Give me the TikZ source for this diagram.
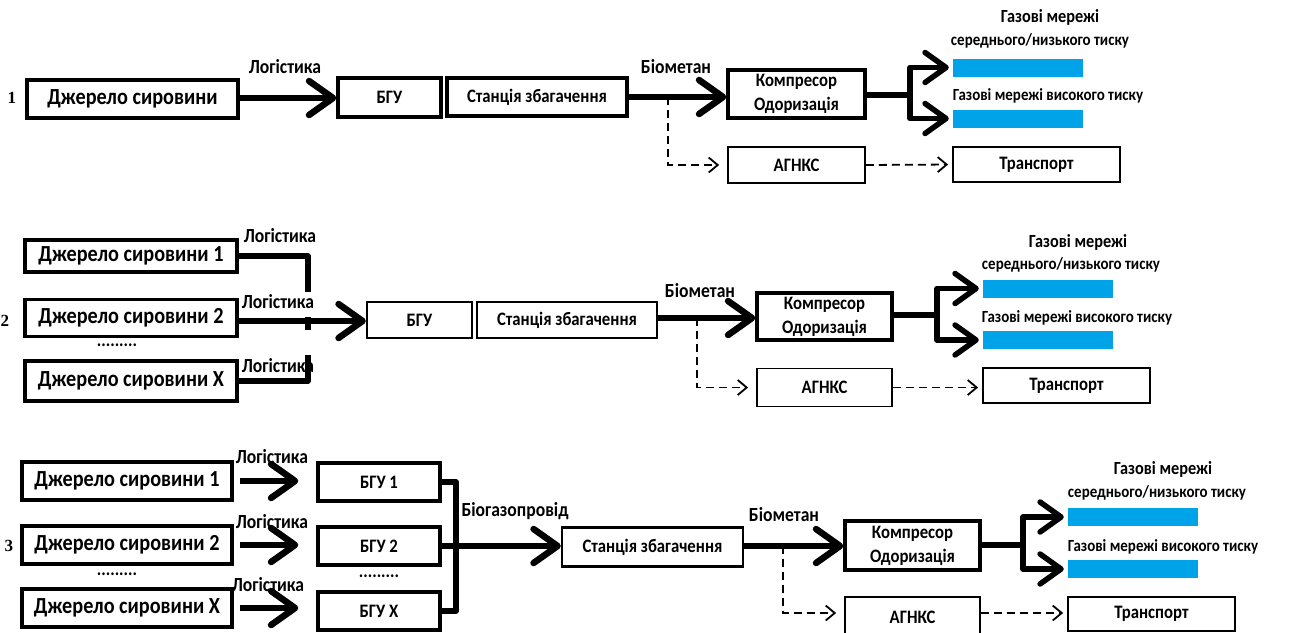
\documentclass[tikz,border=0pt]{standalone}
\usepackage{fontspec}
\setmainfont{Carlito}[FakeStretch=0.88]
\newfontfamily\numfont{Liberation Serif}
\usetikzlibrary{arrows.meta,calc}
\definecolor{barblue}{RGB}{0,162,232}
\begin{document}
\begin{tikzpicture}[x=1pt,y=-1pt,
  bx/.style={draw, line width=3.4, inner sep=0, align=center},
  bxm/.style={draw, line width=2.4, inner sep=0, align=center},
  bxt/.style={draw, line width=1.8, inner sep=0, align=center},
  bar/.style={fill=barblue, inner sep=0, minimum width=130, minimum height=18},
  big/.style={font=\bfseries\fontsize{23}{27}\selectfont},
  mid/.style={font=\bfseries\fontsize{19}{24}\selectfont},
  lab/.style={font=\bfseries\fontsize{20}{22}\selectfont, inner sep=1},
  glab/.style={font=\bfseries\fontsize{17}{20}\selectfont, inner sep=1},
  gtop/.style={font=\bfseries\fontsize{18.5}{20}\selectfont, inner sep=1},
  numlab/.style={font=\numfont\bfseries\fontsize{17}{18}\selectfont, inner sep=0},
  dotsl/.style={font=\bfseries\fontsize{19}{20}\selectfont, inner sep=0},
  flow/.style={line width=6.5, line join=round, -{Straight Barb[length=24pt,width=34pt,round]}},
  flowb/.style={line width=5.5, line join=round, -{Straight Barb[length=21pt,width=30pt,round]}, shorten >=4},
  pipe/.style={line width=5.5, line join=round},
  dsh/.style={line width=1.8, dash pattern=on 8pt off 5pt, -{Straight Barb[length=9pt,width=15pt]}},
]
\useasboundingbox (0,0) rectangle (1298,632);

% ================= Row 1 =================
\node[numlab] (n1) at (12,98) {1};
\node[bx, big, minimum width=211, minimum height=38] (s1) at (132.5,99) {Джерело сировини};
\node[bx, mid, minimum width=103, minimum height=39] (b1) at (389.5,97.5) {БГУ};
\node[bx, mid, minimum width=180, minimum height=38] (st1) at (537,97) {Станція збагачення};
\node[bx, mid, minimum width=137, minimum height=48] (c1) at (796.5,94) {Компресор\\Одоризація};
\node[bar] (g1a) at (1018,67.5) {};
\node[bar] (g1b) at (1018,118.5) {};
\node[bxt, mid, minimum width=137, minimum height=36] (a1) at (796.5,165) {АГНКС};
\node[bxt, mid, minimum width=167, minimum height=35] (t1) at (1036.5,164.5) {Транспорт};
\node[lab] (l1) at (285,67) {Логістика};
\node[lab] (m1) at (676,67) {Біометан};
\node[gtop] (h1a) at (1050,17) {Газові мережі};
\node[glab] (h1b) at (1040,41) {середнього/низького тиску};
\node[glab] (h1c) at (1048,96) {Газові мережі високого тиску};

\draw[flow] (s1.east |- 0,98) -- (b1.west |- 0,98);
\draw[flow] (st1.east) -- (st1.east -| c1.west);
\coordinate (k1) at (910,95);
\draw[pipe] (c1.east |- k1) -- (k1);
\draw[flowb] (k1) |- (g1a.west);
\draw[flowb] (k1) |- (g1b.west);
\coordinate (d1) at (668,97);
\draw[dsh, shorten >=8] (d1) |- (a1.west);
\draw[dsh, shorten >=4] (a1.east) -- (t1.west);

% ================= Row 2 =================
\node[numlab] (n2) at (5,321) {2};
\node[bx, big, minimum width=212, minimum height=32] (s2a) at (131,256) {Джерело сировини 1};
\node[bx, big, minimum width=212, minimum height=37] (s2b) at (131,318) {Джерело сировини 2};
\node[dotsl] (p2) at (117,345) {.........};
\node[bx, big, minimum width=212, minimum height=40] (s2x) at (131,381) {Джерело сировини X};
\node[bxm, mid, minimum width=105, minimum height=36] (b2) at (419.5,320) {БГУ};
\node[bxt, mid, minimum width=180, minimum height=36] (st2) at (567,320) {Станція збагачення};
\node[bx, mid, minimum width=135, minimum height=47] (c2) at (824.5,316.5) {Компресор\\Одоризація};
\node[bar] (g2a) at (1048,288.5) {};
\node[bar] (g2b) at (1048,340) {};
\node[bxt, mid, minimum width=135, minimum height=38] (a2) at (824.5,387.5) {АГНКС};
\node[bxt, mid, minimum width=167, minimum height=35] (t2) at (1066.5,385.5) {Транспорт};
\node[lab] (l2a) at (280,236) {Логістика};
\node[lab] (l2b) at (278,302) {Логістика};
\node[lab] (l2c) at (278,366) {Логістика};
\node[lab] (m2) at (700,291) {Біометан};
\node[gtop] (h2a) at (1078,242) {Газові мережі};
\node[glab] (h2b) at (1071,265) {середнього/низького тиску};
\node[glab] (h2c) at (1077,318) {Газові мережі високого тиску};

\coordinate (v2a) at (308,292);
\coordinate (v2b) at (308,317);
\coordinate (v2c) at (308,330);
\coordinate (v2d) at (308,355);
\draw[pipe] (s2a.east) -| (v2a);
\draw[pipe] (v2b) -- (v2c);
\draw[pipe] (s2x.east) -| (v2d);
\draw[flow] (s2b.east |- 0,321) -- (b2.west |- 0,321);
\draw[flow] (st2.east |- 0,318) -- (c2.west |- 0,318);
\coordinate (k2) at (937,315);
\draw[pipe] (c2.east |- k2) -- (k2);
\draw[flowb] (k2) |- (g2a.west);
\draw[flowb] (k2) |- (g2b.west);
\coordinate (d2) at (697,318);
\draw[dsh, shorten >=8] (d2) |- (a2.west);
\draw[dsh, shorten >=4] (a2.east) -- (t2.west |- a2.east);

% ================= Row 3 =================
\node[numlab] (n3) at (9,546) {3};
\node[bx, big, minimum width=210, minimum height=38] (s3a) at (127,481) {Джерело сировини 1};
\node[bx, big, minimum width=210, minimum height=38] (s3b) at (127,545) {Джерело сировини 2};
\node[dotsl] (p3) at (117,574) {.........};
\node[bx, big, minimum width=210, minimum height=38] (s3x) at (127,608) {Джерело сировини X};
\node[bx, mid, minimum width=122, minimum height=38] (b3a) at (379,482) {БГУ 1};
\node[bx, mid, minimum width=122, minimum height=38] (b3b) at (379,546) {БГУ 2};
\node[dotsl] (q3) at (379,576) {.........};
\node[bx, mid, minimum width=122, minimum height=38] (b3x) at (379,611) {БГУ X};
\node[bxm, mid, minimum width=181, minimum height=39] (st3) at (652.5,547) {Станція збагачення};
\node[bx, mid, minimum width=135, minimum height=49] (c3) at (912.5,545.5) {Компресор\\Одоризація};
\node[bar] (g3a) at (1133,517) {};
\node[bar] (g3b) at (1133,569) {};
\node[bxt, mid, minimum width=135, minimum height=40] (a3) at (912.5,617) {АГНКС};
\node[bxt, mid, minimum width=167, minimum height=34] (t3) at (1151.5,614) {Транспорт};
\node[lab] (l3a) at (272,457) {Логістика};
\node[lab] (l3b) at (272,522) {Логістика};
\node[lab] (l3c) at (268,585) {Логістика};
\node[lab] (bg3) at (515,511) {Біогазопровід};
\node[lab] (m3) at (784,515) {Біометан};
\node[gtop] (h3a) at (1163,469) {Газові мережі};
\node[glab] (h3b) at (1157,493) {середнього/низького тиску};
\node[glab] (h3c) at (1163,547) {Газові мережі високого тиску};

\draw[flow, shorten <=6, shorten >=18] (s3a.east) -- (b3a.west |- s3a.east);
\draw[flow, shorten <=6, shorten >=18] (s3b.east) -- (b3b.west |- s3b.east);
\draw[flow, shorten <=6, shorten >=18] (s3x.east) -- (b3x.west |- s3x.east);
\coordinate (k3) at (456,546);
\draw[pipe] (b3a.east) -| (k3);
\draw[pipe] (b3x.east) -| (k3);
\draw[flow] (b3b.east) -- (st3.west |- b3b.east);
\draw[flow] (st3.east |- 0,546) -- (c3.west |- 0,546);
\coordinate (k4) at (1023,545);
\draw[pipe] (c3.east |- k4) -- (k4);
\draw[flowb] (k4) |- (g3a.west);
\draw[flowb] (k4) |- (g3b.west);
\coordinate (d3) at (783,546);
\draw[dsh, shorten >=8] (d3) |- (a3.west |- 0,613);
\draw[dsh, shorten >=4] (a3.east |- 0,613) -- (t3.west |- 0,613);
\end{tikzpicture}
\end{document}
